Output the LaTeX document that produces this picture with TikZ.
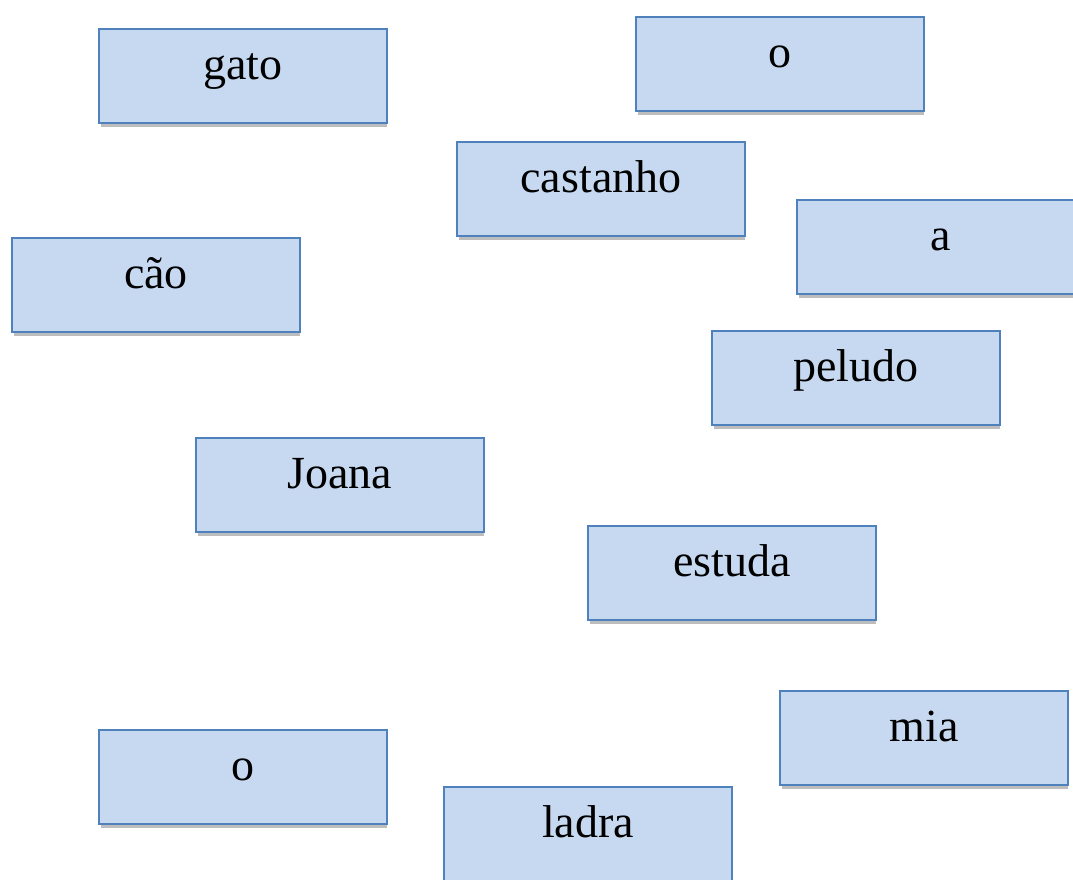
\documentclass[tikz,border=0pt]{standalone}
\usepackage{fontspec}
\setmainfont{Liberation Serif}
\definecolor{boxfill}{HTML}{C6D9F1}
\definecolor{boxline}{HTML}{4F81BD}
\definecolor{shadowc}{HTML}{BDBDBD}
\newcommand\wbox[4]{%
  \node[wordbox] (#1) at (#2+1,#3+1) {};
  \fill[shadowc] ([xshift=2pt,yshift=-1pt]#1.south west) rectangle ([yshift=-4pt]#1.south east);
  \node[wordtext] (#1t) at ([yshift=-50pt]#1.north) {#4};
}
\begin{document}
\begin{tikzpicture}[x=1pt,y=-1pt,
  wordbox/.style={draw=boxline, fill=boxfill, line width=2pt, minimum width=288pt, minimum height=94pt, inner sep=0pt, outer sep=0pt, anchor=north west},
  wordtext/.style={anchor=base, font=\fontsize{46}{50}\selectfont, inner sep=0pt}]
\useasboundingbox[fill=white] (0,0) rectangle (1073,879);
\wbox{gato}{98}{28}{gato}
\wbox{otop}{635}{16}{o}
\wbox{castanho}{456}{141}{castanho}
\wbox{a}{796}{199}{a}
\wbox{cao}{11}{237}{cão}
\wbox{peludo}{711}{330}{peludo}
\wbox{joana}{195}{437}{Joana}
\wbox{estuda}{587}{525}{estuda}
\wbox{mia}{779}{690}{mia}
\wbox{obot}{98}{729}{o}
\wbox{ladra}{443}{786}{ladra}
\end{tikzpicture}
\end{document}
